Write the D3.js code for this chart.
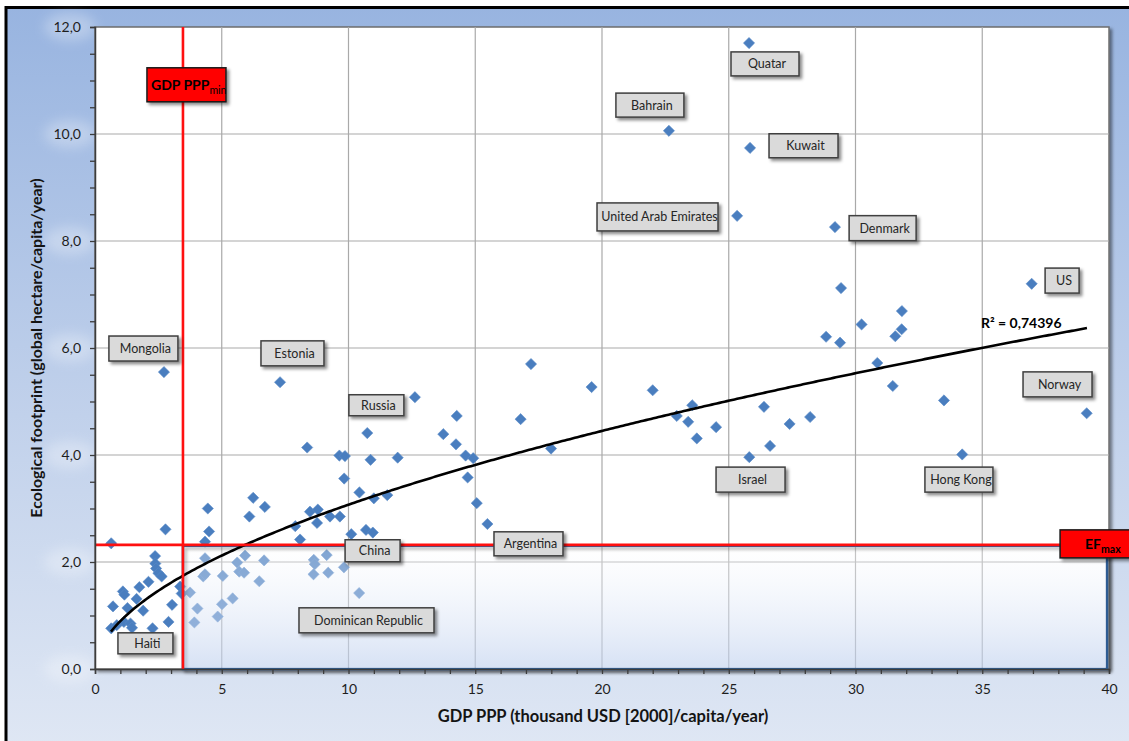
<!DOCTYPE html>
<html>
<head>
<meta charset="utf-8">
<script src="https://cdn.jsdelivr.net/npm/d3@7"></script>
<style>
  html, body { margin: 0; padding: 0; background: #fff; }
  svg { display: block; }
  text { font-family: Lato, "Open Sans", "Liberation Sans", sans-serif; }
</style>
</head>
<body>
<svg id="chart" width="1129" height="741"></svg>
<script>
// GDP PPP (thousand USD [2000] per capita per year), one entry per country
const gdp = [
  25.80, 22.64, 25.84, 25.33, 29.19, 36.95, 29.43, 31.83, 30.24, 28.84,
  29.39, 31.57, 31.82, 30.86, 31.47, 28.21, 27.40, 39.12, 34.21, 33.49,
  25.81, 26.63, 26.39, 24.50, 23.74, 23.40, 22.95, 23.56, 22.00, 19.59,
  17.20, 16.79, 17.99, 12.62, 14.27, 13.74, 14.24, 10.74, 8.37, 9.64,
  9.86, 10.87, 11.94, 14.62, 14.92, 14.70, 9.83, 10.43, 11.00, 11.53,
  15.06, 15.48, 7.90, 8.09, 8.48, 8.79, 8.76, 9.27, 9.66, 10.11,
  10.69, 10.96, 8.63, 8.67, 9.14, 8.62, 9.20, 9.82, 10.42, 7.30,
  2.72, 6.24, 6.70, 4.45, 4.50, 4.34, 4.34, 4.27, 4.34, 5.04,
  3.75, 4.04, 3.92, 5.01, 4.84, 5.43, 6.09, 5.61, 5.92, 5.69,
  5.88, 6.48, 6.67, 0.64, 2.78, 2.37, 2.38, 2.41, 2.50, 2.63,
  2.11, 1.75, 1.10, 1.16, 0.71, 1.64, 1.28, 1.90, 3.04, 2.90,
  0.64, 0.86, 1.14, 1.40, 1.46, 2.27, 3.36, 3.42
];

// Ecological footprint (global hectare per capita per year), same order as gdp
const footprint = [
  11.70, 10.06, 9.74, 8.47, 8.26, 7.20, 7.12, 6.69, 6.44, 6.21,
  6.10, 6.22, 6.35, 5.72, 5.29, 4.71, 4.58, 4.78, 4.01, 5.02,
  3.96, 4.17, 4.90, 4.52, 4.31, 4.62, 4.73, 4.93, 5.21, 5.27,
  5.70, 4.67, 4.12, 5.08, 4.73, 4.39, 4.20, 4.41, 4.14, 3.99,
  3.98, 3.91, 3.95, 3.99, 3.94, 3.58, 3.56, 3.30, 3.19, 3.25,
  3.10, 2.71, 2.67, 2.42, 2.94, 2.98, 2.73, 2.85, 2.85, 2.52,
  2.60, 2.55, 2.04, 1.96, 2.13, 1.77, 1.80, 1.90, 1.42, 5.36,
  5.55, 3.20, 3.03, 3.00, 2.57, 2.38, 2.07, 1.73, 1.77, 1.74,
  1.43, 1.13, 0.87, 1.21, 0.98, 1.32, 2.85, 1.99, 2.12, 1.82,
  1.80, 1.64, 2.03, 2.35, 2.61, 2.11, 1.97, 1.88, 1.79, 1.73,
  1.63, 1.53, 1.45, 1.39, 1.17, 1.31, 1.14, 1.09, 1.20, 0.88,
  0.76, 0.82, 0.88, 0.85, 0.77, 0.76, 1.54, 1.41
];

const xTickValues = [0, 5, 10, 15, 20, 25, 30, 35, 40];
const yTickValues = [0, 2, 4, 6, 8, 10, 12];

// Thresholds: minimum GDP PPP and maximum sustainable footprint
const gdpMin = 3.47;
const efMax = 2.32;

// Power trend  y = a * x^b  and its coefficient of determination
const trendCoefficients = [0.896, 0.535];
const trendRange = [0.63, 39.13];
const rSquaredText = "R² = 0,74396";

// Country call-outs (box centre in data units, box size in px)
const callouts = [
  { name: "Quatar",             x: 26.43, y: 11.31, w: 68,  h: 24 },
  { name: "Bahrain",            x: 21.89, y: 10.54, w: 68,  h: 24 },
  { name: "Kuwait",             x: 27.95, y: 9.78,  w: 69,  h: 24 },
  { name: "United Arab Emirates", x: 22.19, y: 8.45, w: 121, h: 28 },
  { name: "Denmark",            x: 31.07, y: 8.24,  w: 67,  h: 25 },
  { name: "US",                 x: 38.15, y: 7.26,  w: 34,  h: 25 },
  { name: "Norway",             x: 37.97, y: 5.32,  w: 69,  h: 25 },
  { name: "Hong Kong",          x: 34.08, y: 3.54,  w: 68,  h: 25 },
  { name: "Israel",             x: 25.86, y: 3.54,  w: 69,  h: 25 },
  { name: "Russia",             x: 11.10, y: 4.93,  w: 55,  h: 21 },
  { name: "China",              x: 10.95, y: 2.21,  w: 55,  h: 22 },
  { name: "Argentina",          x: 17.10, y: 2.34,  w: 69,  h: 24 },
  { name: "Dominican Republic", x: 10.71, y: 0.91,  w: 135, h: 25 },
  { name: "Mongolia",           x: 1.91,  y: 5.99,  w: 69,  h: 25 },
  { name: "Estonia",            x: 7.79,  y: 5.90,  w: 63,  h: 25 },
  { name: "Haiti",              x: 1.99,  y: 0.48,  w: 55,  h: 21 }
];

const svg = d3.select("#chart");
const W = 1129, H = 741;
const plot = { left: 95, right: 1109, top: 27, bottom: 669 };

const x = d3.scaleLinear().domain([0, 40]).range([plot.left, plot.right]);
const y = d3.scaleLinear().domain([0, 12]).range([plot.bottom, plot.top]);

const defs = svg.append("defs");

const bg = defs.append("linearGradient").attr("id", "bgGrad")
  .attr("x1", 0).attr("y1", 0).attr("x2", 0).attr("y2", 1);
bg.append("stop").attr("offset", "0%").attr("stop-color", "#98b4e0");
bg.append("stop").attr("offset", "55%").attr("stop-color", "#c1d1eb");
bg.append("stop").attr("offset", "100%").attr("stop-color", "#dfe7f4");

const zone = defs.append("linearGradient").attr("id", "zoneGrad")
  .attr("x1", 0).attr("y1", 0).attr("x2", 0).attr("y2", 1);
zone.append("stop").attr("offset", "0%").attr("stop-color", "#ffffff").attr("stop-opacity", 0.3);
zone.append("stop").attr("offset", "100%").attr("stop-color", "#bfd0ee").attr("stop-opacity", 0.62);

const shadow = defs.append("filter").attr("id", "shadow")
  .attr("x", "-20%").attr("y", "-20%").attr("width", "150%").attr("height", "160%");
shadow.append("feDropShadow").attr("dx", 2.5).attr("dy", 2.5)
  .attr("stdDeviation", 1.8).attr("flood-color", "#000").attr("flood-opacity", 0.45);

const glow = defs.append("filter").attr("id", "glow")
  .attr("x", "-50%").attr("y", "-50%").attr("width", "200%").attr("height", "200%");
glow.append("feGaussianBlur").attr("stdDeviation", 6);

// Outer panel with black frame
svg.append("rect").attr("x", 6).attr("y", 7.5).attr("width", W).attr("height", H)
  .attr("fill", "url(#bgGrad)").attr("stroke", "#000").attr("stroke-width", 3);

// Soft halo behind the value labels of the vertical axis
svg.append("g").selectAll("ellipse").data(yTickValues).join("ellipse")
  .attr("cx", 70).attr("cy", d => y(d)).attr("rx", 26).attr("ry", 14)
  .attr("fill", "#ffffff").attr("opacity", 0.28).attr("filter", "url(#glow)");

// Plot area
svg.append("rect")
  .attr("x", plot.left).attr("y", plot.top)
  .attr("width", plot.right - plot.left).attr("height", plot.bottom - plot.top)
  .attr("fill", "#fff").attr("stroke", "#6e6e6e").attr("stroke-width", 1.5)
  .attr("filter", "url(#shadow)");

// Grid
const grid = svg.append("g").attr("stroke", "#a9a9a9").attr("stroke-width", 1.2);
grid.selectAll("line.v").data(xTickValues.filter(d => d > 0 && d < 40)).join("line")
  .attr("x1", d => x(d)).attr("x2", d => x(d))
  .attr("y1", plot.top).attr("y2", plot.bottom);
grid.selectAll("line.h").data(yTickValues.filter(d => d > 0 && d < 12)).join("line")
  .attr("x1", plot.left).attr("x2", plot.right)
  .attr("y1", d => y(d)).attr("y2", d => y(d));

// Country markers
const points = gdp.map((g, i) => ({ gdp: g, ef: footprint[i] }));
const diamond = r => `M0,${-r}L${r},0L0,${r}L${-r},0Z`;
svg.append("g").selectAll("path").data(points).join("path")
  .attr("transform", d => `translate(${x(d.gdp)},${y(d.ef)})`)
  .attr("d", diamond(5.6))
  .attr("fill", "#4a7ebf")
  .attr("stroke", "#5b8bc8").attr("stroke-width", 0.6);

// Sustainable development zone: shadowed frame, then translucent fill
const zx = x(gdpMin), zy = y(efMax) + 1;
const zw = x(40) - 2 - zx, zh = y(0) - zy;
svg.append("rect")
  .attr("x", zx).attr("y", zy).attr("width", zw).attr("height", zh)
  .attr("fill", "none")
  .attr("stroke", "#2f5b93").attr("stroke-width", 2.5)
  .attr("filter", "url(#shadow)");
svg.append("rect")
  .attr("x", zx + 1.25).attr("y", zy + 1.25).attr("width", zw - 2.5).attr("height", zh - 2.5)
  .attr("fill", "url(#zoneGrad)");

// Trend line
const [ta, tb] = trendCoefficients;
const trendXs = d3.range(trendRange[0], trendRange[1], 0.1).concat([trendRange[1]]);
svg.append("path")
  .datum(trendXs)
  .attr("fill", "none").attr("stroke", "#000").attr("stroke-width", 2.6)
  .attr("d", d3.line().x(d => x(d)).y(d => y(ta * Math.pow(d, tb))));

svg.append("text")
  .attr("x", 981).attr("y", 328)
  .attr("font-size", 14).attr("font-weight", "bold").attr("fill", "#000")
  .text(rSquaredText);

// Threshold lines
svg.append("line")
  .attr("x1", x(gdpMin)).attr("x2", x(gdpMin))
  .attr("y1", plot.top).attr("y2", plot.bottom)
  .attr("stroke", "#ff1010").attr("stroke-width", 2.6);
svg.append("line")
  .attr("x1", plot.left).attr("x2", x(38.2))
  .attr("y1", y(efMax)).attr("y2", y(efMax))
  .attr("stroke", "#ff1010").attr("stroke-width", 2.6);

// Axes
const yAxis = d3.axisLeft(y)
  .tickValues(d3.range(0, 12.01, 0.5))
  .tickSize(5).tickPadding(9)
  .tickFormat(d => (Math.abs(d % 2) < 1e-9 ? d3.format(".1f")(d).replace(".", ",") : ""));
const xAxis = d3.axisBottom(x)
  .tickValues(d3.range(0, 40.01, 1))
  .tickSize(5).tickPadding(10)
  .tickFormat(d => (d % 5 === 0 ? String(d) : ""));

const gy = svg.append("g").attr("transform", `translate(${plot.left},0)`).call(yAxis);
const gx = svg.append("g").attr("transform", `translate(0,${plot.bottom})`).call(xAxis);
[gx, gy].forEach(g => {
  g.select(".domain").attr("stroke", "#3c3c3c").attr("stroke-width", 1.5);
  g.selectAll(".tick line").attr("stroke", "#3c3c3c").attr("stroke-width", 1.3);
  g.selectAll(".tick text")
    .attr("font-family", 'Lato, "Open Sans", sans-serif')
    .attr("font-size", 14).attr("fill", "#1e1e1e");
});

// Axis titles
svg.append("text")
  .attr("x", 603).attr("y", 722)
  .attr("text-anchor", "middle")
  .attr("font-size", 16.5).attr("font-weight", "bold").attr("fill", "#141414")
  .text("GDP PPP (thousand USD [2000]/capita/year)");
svg.append("text")
  .attr("transform", `translate(42,${(plot.top + plot.bottom) / 2}) rotate(-90)`)
  .attr("text-anchor", "middle")
  .attr("font-size", 16).attr("font-weight", "bold").attr("fill", "#141414")
  .text("Ecological footprint (global hectare/capita/year)");

// Country call-out boxes
const boxes = svg.append("g").selectAll("g").data(callouts).join("g")
  .attr("transform", d => `translate(${x(d.x)},${y(d.y)})`);
boxes.append("rect")
  .attr("x", d => -d.w / 2).attr("y", d => -d.h / 2)
  .attr("width", d => d.w).attr("height", d => d.h)
  .attr("fill", "#dadada").attr("stroke", "#3f3f3f").attr("stroke-width", 1.5)
  .attr("filter", "url(#shadow)");
boxes.append("text")
  .attr("x", 2).attr("y", 4.5)
  .attr("text-anchor", "middle")
  .attr("font-size", 12.5).attr("fill", "#262626")
  .text(d => d.name);

// Threshold tags
const minTag = svg.append("g").attr("transform", `translate(${x(gdpMin)},${y(10.92)})`);
minTag.append("rect")
  .attr("x", -36).attr("y", -17).attr("width", 79).attr("height", 34)
  .attr("fill", "#ff0000").attr("stroke", "#1a1a1a").attr("stroke-width", 1.5)
  .attr("filter", "url(#shadow)");
const minText = minTag.append("text").attr("x", -32).attr("y", 5)
  .attr("font-size", 14).attr("font-weight", "bold").attr("fill", "#000");
minText.append("tspan").text("GDP PPP");
minText.append("tspan").attr("dy", 4).attr("font-size", 10.5).attr("font-weight", "normal").text("min");

const maxTag = svg.append("g").attr("transform", `translate(${x(38.07)},${y(efMax)})`);
maxTag.append("rect")
  .attr("x", 0).attr("y", -15).attr("width", 80).attr("height", 28)
  .attr("fill", "#ff0000").attr("stroke", "#1a1a1a").attr("stroke-width", 1.5)
  .attr("filter", "url(#shadow)");
const maxText = maxTag.append("text").attr("x", 25).attr("y", 4)
  .attr("font-size", 14).attr("font-weight", "bold").attr("fill", "#000");
maxText.append("tspan").text("EF");
maxText.append("tspan").attr("dy", 4).attr("font-size", 10.5).text("max");
</script>
</body>
</html>
